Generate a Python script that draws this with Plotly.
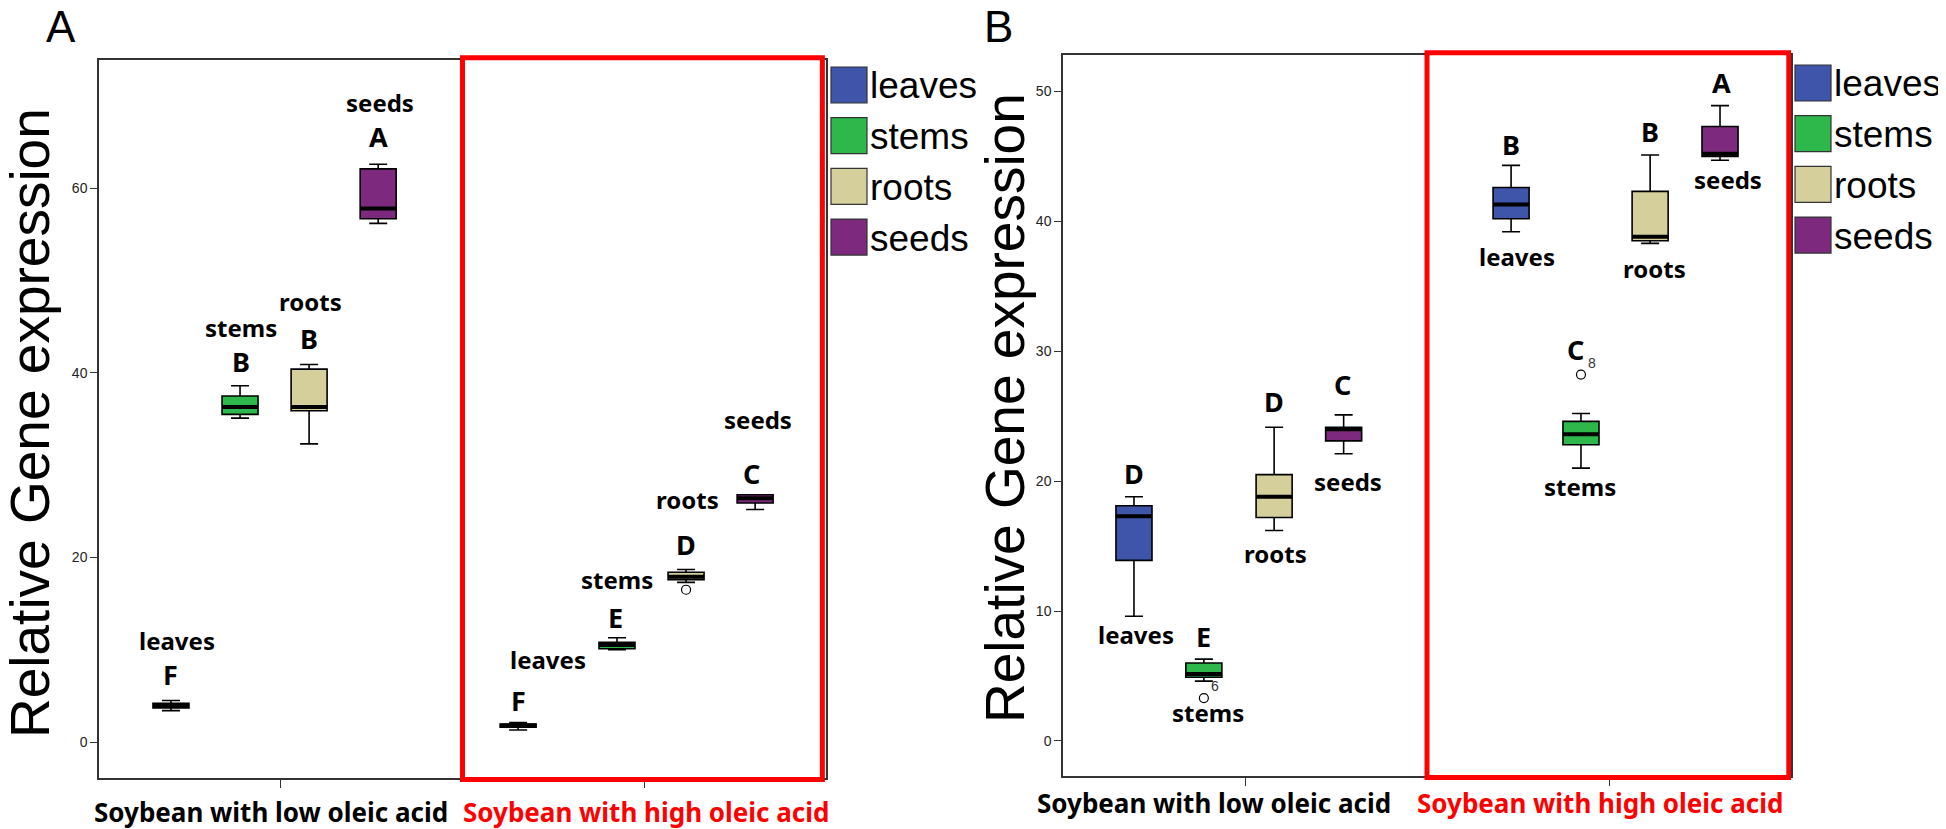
import plotly.graph_objects as go

W, H = 1946, 829

# ---- data ----
tissues = ["leaves", "stems", "roots", "seeds"]
groups = ["Soybean with low oleic acid", "Soybean with high oleic acid"]
colors = ["#3F55AA", "#2EB84B", "#D5D09B", "#7D2A7E"]

# panel A (box stats per tissue)
a_low_min = [3.4, 35.1, 32.3, 56.2]
a_low_q1 = [3.7, 35.5, 35.9, 56.7]
a_low_med = [4.0, 36.3, 36.3, 57.8]
a_low_q3 = [4.2, 37.5, 40.4, 62.1]
a_low_max = [4.5, 38.6, 40.9, 62.6]
a_high_min = [1.3, 10.0, 17.3, 25.2]
a_high_q1 = [1.6, 10.1, 17.6, 25.9]
a_high_med = [1.8, 10.5, 17.9, 26.4]
a_high_q3 = [1.95, 10.8, 18.4, 26.8]
a_high_max = [2.1, 11.3, 18.7, 26.8]
a_letters_low = ["F", "B", "B", "A"]
a_letters_high = ["F", "E", "D", "C"]
a_outliers = [("roots", 1, 16.5, "")]

# panel B
b_low_min = [9.6, 4.6, 16.2, 22.1]
b_low_q1 = [13.9, 4.9, 17.2, 23.1]
b_low_med = [17.3, 5.15, 18.8, 24.0]
b_low_q3 = [18.1, 6.0, 20.5, 24.15]
b_low_max = [18.8, 6.3, 24.15, 25.1]
b_high_min = [39.2, 21.0, 38.3, 44.7]
b_high_q1 = [40.2, 22.8, 38.5, 45.0]
b_high_med = [41.3, 23.6, 38.8, 45.2]
b_high_q3 = [42.6, 24.6, 42.3, 47.3]
b_high_max = [44.3, 25.2, 45.1, 48.9]
b_letters_low = ["D", "E", "D", "C"]
b_letters_high = ["B", "C", "B", "A"]
b_outliers = [("stems", 0, 3.3, "6"), ("stems", 1, 28.2, "8")]

# ---- layout constants ----
BOXW = 0.099
# box slot offsets from category centre, [low group, high group]
slots_a = [[-0.302, -0.112, 0.078, 0.268], [-0.347, -0.075, 0.115, 0.305]]
slots_b = [[-0.305, -0.113, 0.080, 0.271], [-0.269, -0.077, 0.113, 0.305]]
# label positions (x, y in data units): word, letter
lab_a = [
    [((0.715, 11.0), (0.698, 7.3)), ((0.890, 44.9), (0.891, 41.2)),
     ((1.083, 47.7), (1.078, 43.7)), ((1.273, 69.3), (1.270, 65.6))],
    [((1.735, 8.9), (1.653, 4.5)), ((1.926, 17.65), (1.921, 13.5)),
     ((2.120, 26.3), (2.114, 21.4)), ((2.313, 35.0), (2.296, 29.1))],
]
lab_b = [
    [((0.700, 8.2), (0.695, 20.6)), ((0.898, 2.15), (0.887, 8.05)),
     ((1.085, 14.4), (1.080, 26.1)), ((1.283, 20.0), (1.269, 27.4))],
    [((1.747, 37.3), (1.731, 45.9)), ((1.920, 19.6), (1.907, 30.1)),
     ((2.126, 36.4), (2.113, 46.9)), ((2.327, 43.2), (2.308, 50.7))],
]

BOLD = dict(family="Noto Sans", size=24, color="black", weight="bold")
ARIAL = "Liberation Sans, Arial"

fig = go.Figure()


def px(x, y):
    return x / W, 1 - y / H


def note(x, y, text, font, xref="paper", yref="paper", **kw):
    args = dict(xanchor="center", yanchor="middle", showarrow=False)
    args.update(kw)
    fig.add_annotation(x=x, y=y, xref=xref, yref=yref, text=text, font=font, **args)


def add_panel(xa, ya, stats_low, stats_high, slots, outliers, letters, labels):
    for k, t in enumerate(tissues):
        pos = [1 + slots[0][k], 2 + slots[1][k]]
        st = [[s[k] for s in stats_low], [s[k] for s in stats_high]]
        fig.add_trace(go.Box(
            x=pos, lowerfence=[st[0][0], st[1][0]], q1=[st[0][1], st[1][1]],
            median=[st[0][2], st[1][2]], q3=[st[0][3], st[1][3]],
            upperfence=[st[0][4], st[1][4]],
            width=BOXW, whiskerwidth=0.5, fillcolor=colors[k],
            line=dict(color="black", width=1.6), boxpoints=False,
            xaxis=xa, yaxis=ya, hoverinfo="skip"))
        # thick median bar
        mx, my = [], []
        for p, s in zip(pos, st):
            mx += [p - BOXW / 2, p + BOXW / 2, None]
            my += [s[2], s[2], None]
        fig.add_trace(go.Scatter(x=mx, y=my, mode="lines",
                                 line=dict(color="black", width=4),
                                 xaxis=xa, yaxis=ya, hoverinfo="skip"))
        for g in range(2):
            (wx, wy), (lx, ly) = labels[g][k]
            note(wx, wy, t, BOLD, xa, ya)
            note(lx, ly, letters[g][k], dict(BOLD, size=27), xa, ya)
    for t, g, v, lbl in outliers:
        k = tissues.index(t)
        p = g + 1 + slots[g][k]
        fig.add_trace(go.Scatter(x=[p], y=[v], mode="markers",
                                 marker=dict(symbol="circle-open", size=9,
                                             color="black", line=dict(width=1.2)),
                                 xaxis=xa, yaxis=ya, hoverinfo="skip"))
        if lbl:
            note(p, v, lbl, dict(family=ARIAL, size=14, color="#333"), xa, ya,
                 xshift=11, yshift=12)


add_panel("x", "y", [a_low_min, a_low_q1, a_low_med, a_low_q3, a_low_max],
          [a_high_min, a_high_q1, a_high_med, a_high_q3, a_high_max],
          slots_a, a_outliers, [a_letters_low, a_letters_high], lab_a)
add_panel("x2", "y2", [b_low_min, b_low_q1, b_low_med, b_low_q3, b_low_max],
          [b_high_min, b_high_q1, b_high_med, b_high_q3, b_high_max],
          slots_b, b_outliers, [b_letters_low, b_letters_high], lab_b)

axis_common = dict(showgrid=False, zeroline=False, showline=True, mirror=True,
                   linecolor="#333", linewidth=1.5, ticks="outside",
                   tickcolor="#333", tickfont=dict(family=ARIAL, size=14, color="#222"))

fig.update_layout(
    width=W, height=H, margin=dict(l=0, r=0, t=0, b=0),
    paper_bgcolor="white", plot_bgcolor="white", showlegend=False,
    xaxis=dict(axis_common, domain=[91 / W, 818 / W], range=[0.5, 2.5],
               tickvals=[1, 2], ticktext=["", ""], ticklen=8),
    yaxis=dict(axis_common, domain=[1 - 770 / H, 1 - 52 / H], range=[-3.9, 73.9],
               tickvals=[0, 20, 40, 60], ticklen=7),
    xaxis2=dict(axis_common, domain=[1055 / W, 1783 / W], range=[0.5, 2.5],
                tickvals=[1, 2], ticktext=["", ""], ticklen=8, anchor="y2"),
    yaxis2=dict(axis_common, domain=[1 - 768 / H, 1 - 47 / H], range=[-2.7, 52.8],
                tickvals=[0, 10, 20, 30, 40, 50], ticklen=7, anchor="x2"),
)

# red highlight boxes around the high oleic acid group
for xr, yr, x1 in [("x", "y domain", 2.49), ("x2", "y2 domain", 2.494)]:
    fig.add_shape(type="rect", xref=xr, yref=yr, x0=1.5, x1=x1, y0=-0.002, y1=1.003,
                  line=dict(color="#FF0000", width=5), fillcolor="rgba(0,0,0,0)")

# group labels under x axes
for xr, xx, yc, g, c in [("x", 0.972, 804, 0, "black"), ("x", 2.005, 804, 1, "#FF0000"),
                         ("x2", 0.915, 795, 0, "black"), ("x2", 1.978, 795, 1, "#FF0000")]:
    note(xx, 1 - yc / H, groups[g], dict(BOLD, size=26, color=c), xr, "paper",
         borderpad=0)

# y titles and panel letters
for cx, cy in [(22, 415), (997, 400)]:
    x, y = px(cx, cy)
    note(x, y, "Relative Gene expression", dict(family=ARIAL, size=55, color="black"),
         textangle=-90)
for letter, cx, cy in [("A", 53, 18), ("B", 990, 19)]:
    x, y = px(cx, cy)
    note(x, y, letter, dict(family=ARIAL, size=44, color="black"))

# manual legends
for sx, sy in [(823, 59), (1787, 57)]:
    for k, t in enumerate(tissues):
        y0 = sy + k * 50.7
        x0p, y0p = px(sx, y0)
        x1p, y1p = px(sx + 36, y0 + 36)
        fig.add_shape(type="rect", xref="paper", yref="paper", x0=x0p, x1=x1p,
                      y0=y1p, y1=y0p, fillcolor=colors[k],
                      line=dict(color="#333", width=1.2))
        tx, ty = px(sx + 37, y0 + 19)
        note(tx, ty, t, dict(family=ARIAL, size=37, color="black"), xanchor="left")

fig.write_html("out.html")
